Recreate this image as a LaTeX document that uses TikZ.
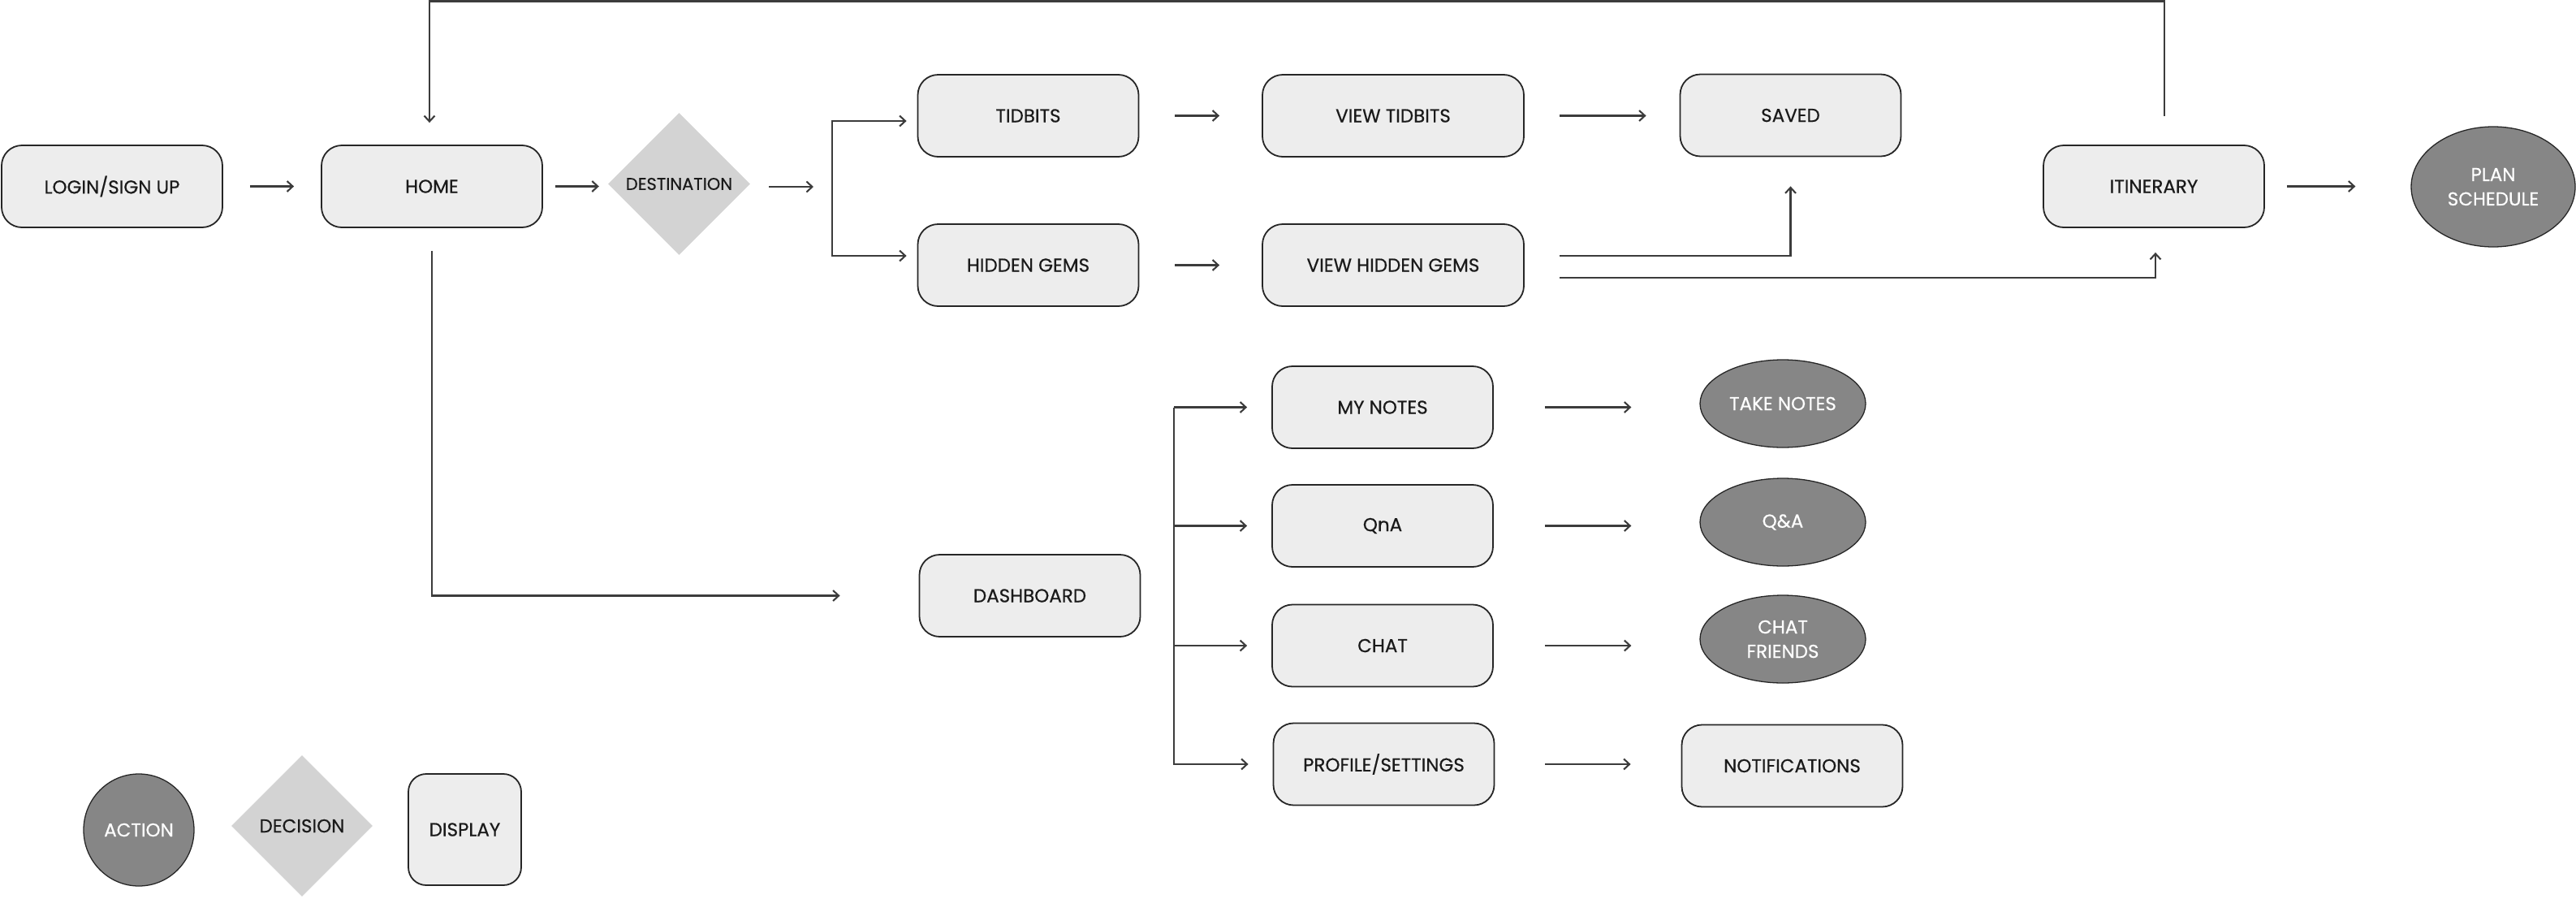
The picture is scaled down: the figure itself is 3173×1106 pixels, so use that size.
\documentclass[tikz,border=0pt]{standalone}
\usepackage{fontspec}
\setmainfont{Poppins}
\newfontfamily\boxfont{Poppins}[FakeBold=0.5]
\usetikzlibrary{shapes.geometric,arrows.meta}

\definecolor{boxfill}{HTML}{EDEDED}
\definecolor{diafill}{HTML}{D3D3D3}
\definecolor{actfill}{HTML}{868686}
\definecolor{linegray}{HTML}{3C3C3C}
\definecolor{txtgray}{HTML}{1A1A1A}

\begin{document}
\begin{tikzpicture}[x=1pt,y=-1pt,
	showbox/.style={draw=black!85,line width=1.8pt,fill=boxfill,rounded corners=25pt,
		minimum width=272pt,minimum height=101pt,inner sep=0pt,text=txtgray,
		font=\boxfont\fontsize{23}{30}\selectfont},
	choice/.style={diamond,fill=diafill,aspect=1,minimum width=175pt,minimum height=175pt,
		inner sep=0pt,text=txtgray,font=\boxfont\fontsize{21}{28}\selectfont},
	actnode/.style={ellipse,draw=black!85,line width=1.3pt,fill=actfill,minimum width=204pt,
		minimum height=108pt,inner sep=0pt,text=white,align=center,
		font=\boxfont\fontsize{23}{30}\selectfont},
	flow/.style={draw=linegray,line width=2.1pt,-{Straight Barb[length=7pt,width=13pt]}}]
	\useasboundingbox (0,0) rectangle (3173,1106);

	% fila de arriba
	\node[showbox] (login) at (138,229.5) {LOGIN/SIGN UP};
	\node[showbox] (home) at (532,229.5) {HOME};
	\node[choice] (dest) at (836.5,226.5) {DESTINATION};
	\node[showbox] (tidbits) at (1266.5,142.5) {TIDBITS};
	\node[showbox] (gems) at (1266.5,326.5) {HIDDEN GEMS};
	\node[showbox,minimum width=322pt] (viewtid) at (1716,142.5) {VIEW TIDBITS};
	\node[showbox,minimum width=322pt] (viewgems) at (1716,326.5) {VIEW HIDDEN GEMS};
	\node[showbox] (saved) at (2205.5,142) {SAVED};
	\node[showbox] (itin) at (2653,229.5) {ITINERARY};
	\node[actnode,minimum width=202pt,minimum height=148pt] (plan) at (3071,230) {PLAN\\SCHEDULE};

	% dashboard
	\node[showbox] (dash) at (1268.5,733.5) {DASHBOARD};
	\node[showbox] (notes) at (1703,501.5) {MY NOTES};
	\node[showbox] (qna) at (1703,647.5) {QnA};
	\node[showbox] (chat) at (1703,795) {CHAT};
	\node[showbox] (profile) at (1704.5,941) {PROFILE/SETTINGS};
	\node[actnode] (takenotes) at (2196,497) {TAKE NOTES};
	\node[actnode] (qa) at (2196,643) {Q\&A};
	\node[actnode] (chatfr) at (2196,787) {CHAT\\FRIENDS};
	\node[showbox] (notif) at (2207.5,943) {NOTIFICATIONS};

	% leyenda
	\node[actnode,minimum width=136pt,minimum height=138pt] (lgaction) at (171,1022) {ACTION};
	\node[choice,minimum width=174pt,minimum height=174pt,font=\boxfont\fontsize{23}{30}\selectfont] (lgdecision) at (372,1017) {DECISION};
	\node[showbox,minimum width=139pt,minimum height=137pt,rounded corners=22pt] (lgdisplay) at (572.5,1021.5) {DISPLAY};

	\coordinate (destsplit) at (1025,230);
	\coordinate (dashsplit) at (1446,501.5);
	\coordinate (top) at (0,1.5);

	\begin{scope}[flow]
	\draw[shorten <=33pt,shorten >=33pt] (login) -- (home);
	\draw[shorten <=15pt,shorten >=11pt] (home.east) -- (home.east -| dest.west);
	\draw[shorten <=23pt,shorten >=23pt] (destsplit -| dest.east) -- (destsplit);
	\draw[shorten >=13pt] (destsplit) |- ([yshift=-6.5pt]tidbits.west);
	\draw[shorten >=13pt] (destsplit) |- ([yshift=11.5pt]gems.west);
	\draw[shorten <=44pt,shorten >=52pt] (tidbits) -- (viewtid);
	\draw[shorten <=44pt,shorten >=52pt] (gems) -- (viewgems);
	\draw[shorten <=43pt,shorten >=41pt] (viewtid.east) -- (viewtid.east -| saved.west);
	\draw[shorten <=43pt,shorten >=36pt] ([yshift=11.5pt]viewgems.east) -| (saved.south);
	\draw[shorten <=43pt,shorten >=30pt] ([yshift=-15.5pt]viewgems.east) -| ([xshift=2pt]itin.south);
	\draw[shorten <=27pt,shorten >=68pt] (itin.east) -- (itin.east -| plan.west);
	% vuelta a home
	\draw[shorten <=35pt,shorten >=27pt] ([xshift=13pt]itin.north) -- ([xshift=13pt]itin.north |- top) -| ([xshift=-3pt]home.north);
	\draw[shorten <=28pt,shorten >=97pt] (home.south) |- (dash.west);
	\foreach \n in {notes,qna,chat,profile}
		\draw[shorten >=30pt] (dashsplit) |- (\n.west);
	\foreach \a/\b in {notes/takenotes,qna/qa,chat/chatfr}
		\draw[shorten <=63pt,shorten >=84pt] (\a.east) -- (\a.east -| \b.west);
	\draw[shorten <=62pt,shorten >=62pt] (profile.east) -- (profile.east -| notif.west);
	\end{scope}
\end{tikzpicture}
\end{document}
